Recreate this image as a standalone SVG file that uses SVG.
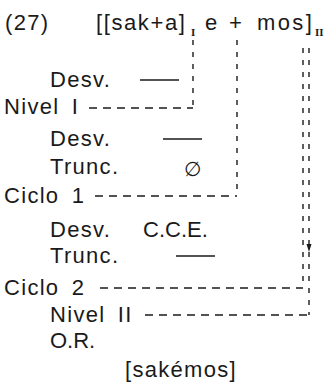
<svg xmlns="http://www.w3.org/2000/svg" width="327" height="388" viewBox="0 0 327 388">
  <style>
    .t { font-family: "Liberation Sans", Arial, sans-serif; font-size: 22px; letter-spacing: 1.3px; word-spacing: 5px; fill: #1a1a1a; }
    .tight { letter-spacing: 0; }
    .form { letter-spacing: 1.6px; }
    .wide { letter-spacing: 2.4px; }
    .sub { font-family: "Liberation Serif", "Times New Roman", serif; font-size: 11px; font-weight: bold; fill: #1a1a1a; }
    .sym { font-family: "DejaVu Sans", sans-serif; font-size: 20px; fill: #1a1a1a; }
    .bar { stroke: #1a1a1a; stroke-width: 1.6; fill: none; }
    .dh { stroke: #1a1a1a; stroke-width: 1.4; fill: none; stroke-dasharray: 8 6; }
    .dv { stroke: #1a1a1a; stroke-width: 1.4; fill: none; stroke-dasharray: 5 7; }
  </style>
  <rect width="327" height="388" fill="#ffffff"/>

  <!-- header: example number and bracketed form -->
  <g id="header">
    <text class="t" x="5" y="30">(27)</text>
    <text class="t form" x="96" y="30">[[sak+a]</text>
    <text class="sub" x="191" y="36">I</text>
    <text class="t" x="205" y="30">e</text>
    <text class="t" x="229" y="30">+</text>
    <text class="t wide" x="257" y="30">mos]</text>
    <text class="sub" x="315" y="36">II</text>
  </g>

  <!-- rule derivation rows -->
  <g id="desv1">
    <text class="t" x="50" y="87">Desv.</text>
    <line class="bar" x1="140" y1="80" x2="179" y2="80"/>
  </g>
  <g id="nivel1">
    <text class="t" x="4" y="114">Nivel I</text>
  </g>
  <g id="desv2">
    <text class="t" x="50" y="146">Desv.</text>
    <line class="bar" x1="163" y1="139" x2="202" y2="139"/>
  </g>
  <g id="trunc1">
    <text class="t" x="50" y="174">Trunc.</text>
    <text class="sym" x="184" y="176">∅</text>
  </g>
  <g id="ciclo1">
    <text class="t" x="4" y="203">Ciclo 1</text>
  </g>
  <g id="desv3">
    <text class="t" x="50" y="237">Desv.</text>
    <text class="t tight" x="143" y="237">C.C.E.</text>
  </g>
  <g id="trunc2">
    <text class="t" x="50" y="263">Trunc.</text>
    <line class="bar" x1="176" y1="256" x2="215" y2="256"/>
  </g>
  <g id="ciclo2">
    <text class="t" x="4" y="295">Ciclo 2</text>
  </g>
  <g id="nivel2">
    <text class="t" x="50" y="322">Nivel II</text>
  </g>
  <g id="or">
    <text class="t tight" x="50" y="348">O.R.</text>
  </g>
  <g id="result">
    <text class="t" x="125" y="377">[sakémos]</text>
  </g>

  <!-- dashed brackets linking each domain to its level or cycle -->
  <g id="connectors">
    <polyline class="dv" points="193,40 193,108"/>
    <polyline class="dh" points="89,108 193,108"/>
    <polyline class="dv" points="237,40 237,196"/>
    <polyline class="dh" points="95,196 237,196"/>
    <polyline class="dv" points="303,48 303,288"/>
    <polyline class="dh" points="100,288 303,288"/>
    <polyline class="dv" points="309,48 309,315"/>
    <polyline class="dh" points="145,315 309,315"/>
    <path d="M306.5,244 L311.5,244 L309,252 Z" fill="#1a1a1a"/>
  </g>
</svg>
